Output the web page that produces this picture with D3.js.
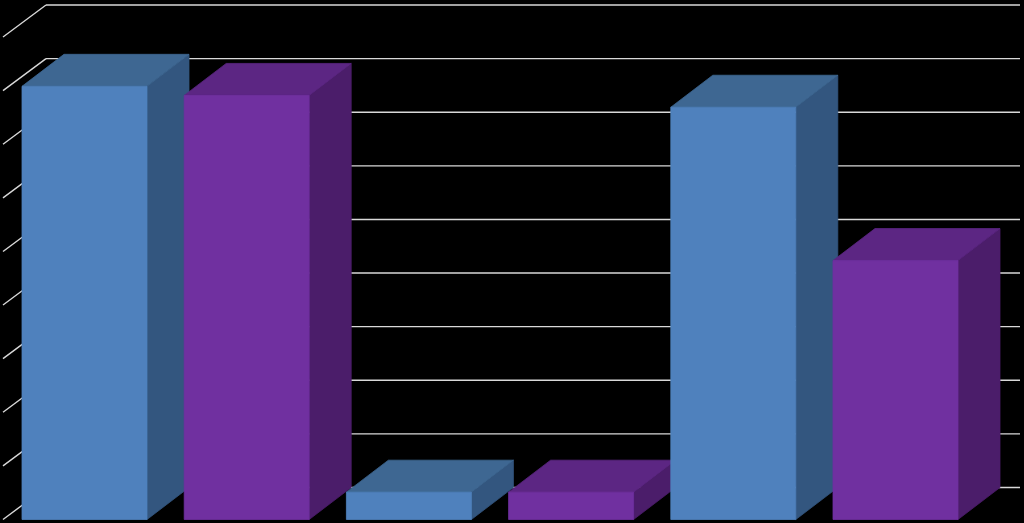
<!DOCTYPE html>
<html lang="en">
  <head>
    <meta charset="utf-8">
    <script src="https://d3js.org/d3.v7.min.js"></script>
    <style>
      html, body { margin: 0; padding: 0; background: #000; }
      svg { display: block; }
      .grid line { stroke: #d9d9d9; stroke-width: 1.4; }
      .bars polygon, .bars rect { stroke-width: 0.8; stroke-linejoin: round; }
    </style>
    <title></title>
  </head>
  <body>
    <svg id="chart" width="1024" height="523"></svg>
  </body>
</html>

<script>
    // data (no labels shown, units of one gridline = 10)
    const categories = ["A", "B", "C"];
    const seriesNames = ["Series 1", "Series 2"];
    const series1 = [80.8, 5.1, 76.9];
    const series2 = [79.1, 5.1, 48.3];
    const tickValues = [0, 10, 20, 30, 40, 50, 60, 70, 80, 90];

    const colors = {
        "Series 1": { front: "#4f81bd", top: "#3e6792", side: "#33567f" },
        "Series 2": { front: "#7030a0", top: "#5c2683", side: "#4b1d6a" }
    };

    const rows = [];
    categories.forEach((c, i) => {
        rows.push({ key: c + "1", s: seriesNames[0], v: series1[i] });
        rows.push({ key: c + "2", s: seriesNames[1], v: series2[i] });
    });

    // 3d depth offset
    const dx = 42, dy = -32;

    const svg = d3.select("#chart");

    const x = d3.scaleBand()
        .domain(rows.map(d => d.key))
        .range([22, 958])
        .paddingInner(0.2293)
        .paddingOuter(0);

    const y = d3.scaleLinear()
        .domain([0, 90])
        .range([519.5, 37]);

    // back wall + side wall gridlines
    const grid = svg.append("g").attr("class", "grid");
    grid.selectAll("line.back")
        .data(tickValues)
        .enter().append("line")
        .attr("class", "back")
        .attr("x1", 3 + 43)
        .attr("x2", 1020)
        .attr("y1", d => y(d) + dy)
        .attr("y2", d => y(d) + dy);
    grid.selectAll("line.side")
        .data(tickValues)
        .enter().append("line")
        .attr("class", "side")
        .attr("x1", 3)
        .attr("x2", 3 + 43)
        .attr("y1", d => y(d))
        .attr("y2", d => y(d) + dy);

    const bw = x.bandwidth();
    const bars = svg.append("g")
        .attr("class", "bars")
        .selectAll("g")
        .data(rows)
        .enter().append("g");

    // side face
    bars.append("polygon")
        .attr("fill", d => colors[d.s].side)
        .attr("stroke", d => colors[d.s].side)
        .attr("points", d => {
            const x1 = x(d.key) + bw, yt = y(d.v), yb = y(0);
            return [[x1, yt], [x1 + dx, yt + dy], [x1 + dx, yb + dy], [x1, yb]].join(" ");
        });

    // top face
    bars.append("polygon")
        .attr("fill", d => colors[d.s].top)
        .attr("stroke", d => colors[d.s].top)
        .attr("points", d => {
            const x0 = x(d.key), x1 = x0 + bw, yt = y(d.v);
            return [[x0, yt], [x0 + dx, yt + dy], [x1 + dx, yt + dy], [x1, yt]].join(" ");
        });

    // front face
    bars.append("rect")
        .attr("fill", d => colors[d.s].front)
        .attr("stroke", d => colors[d.s].front)
        .attr("x", d => x(d.key))
        .attr("y", d => y(d.v))
        .attr("width", bw)
        .attr("height", d => y(0) - y(d.v));
</script>
